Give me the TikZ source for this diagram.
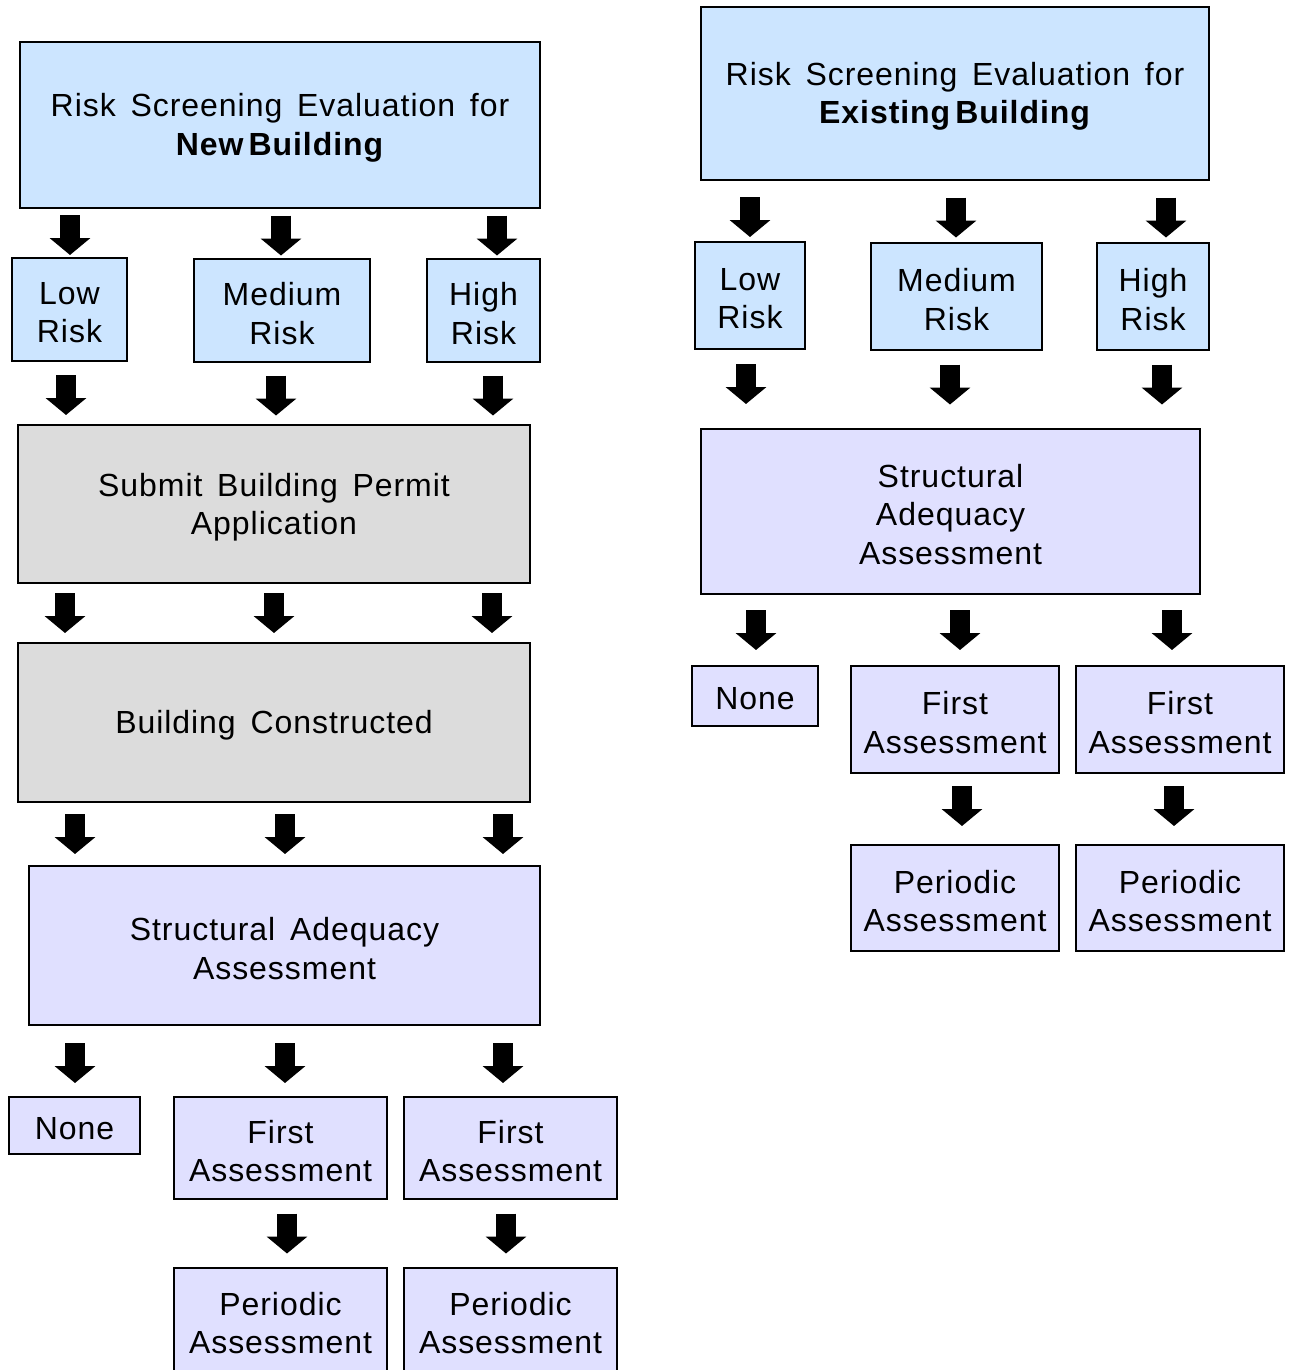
\documentclass[tikz,border=0pt]{standalone}
\usepackage{fontspec}
\setmainfont{Liberation Sans}[LetterSpace=3,WordSpace=1.5]
\usetikzlibrary{arrows.meta,calc}
\definecolor{bluefill}{RGB}{204,229,255}
\definecolor{lavfill}{RGB}{224,224,255}
\definecolor{grayfill}{RGB}{220,220,220}
\newcommand\mkbox[7]{\node[#2, minimum width={(#5)-(#3)}, minimum height={(#6)-(#4)}] (#1) at ({((#3)+(#5))/2},{((#4)+(#6))/2}) {};
 \node[boxtext] (#1t) at ([yshift=-3pt]#1.center) {#7};}
\newcommand\barr[4][0]{\draw[barrow] ($(#2.south -| #4,0)!0.5!(#3.north -| #4,0)+(0,#1)$) +(0,-20) -- +(0,20);}
\begin{document}
\begin{tikzpicture}[x=1pt,y=-1pt,
 box/.style={draw=black, line width=2.2pt, inner sep=0pt},
 boxtext/.style={align=center, inner sep=0pt, font=\fontsize{32}{38.5}\selectfont},
 bluebox/.style={box, fill=bluefill},
 lavbox/.style={box, fill=lavfill},
 graybox/.style={box, fill=grayfill},
 barrow/.style={draw=black, line width=20pt, -{Triangle[width=40pt,length=17pt]}}]
\useasboundingbox (0,0) rectangle (1290,1370);
% left column
\mkbox{t1}{bluebox}{20}{42}{540}{208}{Risk Screening Evaluation for\\\textbf{New\hspace{5pt}Building}}
\mkbox{l1}{bluebox}{12}{258}{127}{361}{Low\\Risk}
\mkbox{m1}{bluebox}{194}{259}{370}{362}{Medium\\Risk}
\mkbox{h1}{bluebox}{427}{259}{540}{362}{High\\Risk}
\mkbox{s1}{graybox}{18}{425}{530}{583}{Submit Building Permit\\Application}
\mkbox{c1}{graybox}{18}{643}{530}{802}{Building Constructed}
\mkbox{a1}{lavbox}{29}{866}{540}{1025}{Structural Adequacy\\Assessment}
\mkbox{n1}{lavbox}{9}{1097}{140}{1154}{None}
\mkbox{f1}{lavbox}{174}{1097}{387}{1199}{First\\Assessment}
\mkbox{f2}{lavbox}{404}{1097}{617}{1199}{First\\Assessment}
\mkbox{p1}{lavbox}{174}{1268}{387}{1372}{Periodic\\Assessment}
\mkbox{p2}{lavbox}{404}{1268}{617}{1372}{Periodic\\Assessment}
% right column
\mkbox{t2}{bluebox}{701}{7}{1209}{180}{Risk Screening Evaluation for\\\textbf{Existing\hspace{5pt}Building}}
\mkbox{l2}{bluebox}{695}{242}{805}{349}{Low\\Risk}
\mkbox{m2}{bluebox}{871}{243}{1042}{350}{Medium\\Risk}
\mkbox{h2}{bluebox}{1097}{243}{1209}{350}{High\\Risk}
\mkbox{a2}{lavbox}{701}{429}{1200}{594}{Structural\\Adequacy\\Assessment}
\mkbox{n2}{lavbox}{692}{666}{818}{726}{None}
\mkbox{f3}{lavbox}{851}{666}{1059}{773}{First\\Assessment}
\mkbox{f4}{lavbox}{1076}{666}{1284}{773}{First\\Assessment}
\mkbox{p3}{lavbox}{851}{845}{1059}{951}{Periodic\\Assessment}
\mkbox{p4}{lavbox}{1076}{845}{1284}{951}{Periodic\\Assessment}
% arrows left
\barr[2]{t1}{l1}{70}
\barr[2]{t1}{m1}{281}
\barr[2]{t1}{h1}{497}
\barr[2]{l1}{s1}{66}
\barr[2]{m1}{s1}{276}
\barr[2]{h1}{s1}{493}
\barr{s1}{c1}{65}
\barr{s1}{c1}{274}
\barr{s1}{c1}{492}
\barr{c1}{a1}{75}
\barr{c1}{a1}{285}
\barr{c1}{a1}{503}
\barr[2]{a1}{n1}{75}
\barr[2]{a1}{f1}{285}
\barr[2]{a1}{f2}{503}
\barr{f1}{p1}{287}
\barr{f2}{p2}{506}
% arrows right
\barr[6]{t2}{l2}{750}
\barr[6]{t2}{m2}{956}
\barr[6]{t2}{h2}{1166}
\barr[-5]{l2}{a2}{746}
\barr[-5]{m2}{a2}{950}
\barr[-5]{h2}{a2}{1162}
\barr{a2}{n2}{756}
\barr{a2}{f3}{960}
\barr{a2}{f4}{1172}
\barr[-3]{f3}{p3}{962}
\barr[-3]{f4}{p4}{1174}
\end{tikzpicture}
\end{document}
